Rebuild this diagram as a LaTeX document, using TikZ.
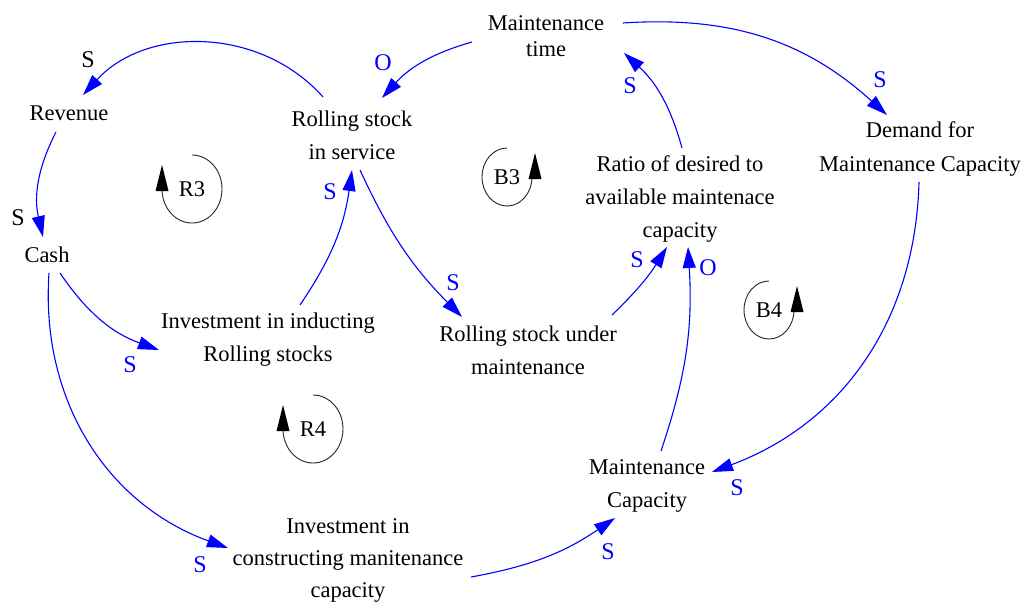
\documentclass[tikz,border=0pt]{standalone}
\usepackage{fontspec}
\setmainfont{Liberation Serif}
\newfontfamily\diagfont{Liberation Serif}
\usetikzlibrary{arrows.meta}
\definecolor{linkblue}{RGB}{0,0,255}
\begin{document}
\begin{tikzpicture}[x=1pt,y=-1pt,
  var/.style={align=center, inner sep=0pt, font=\diagfont\fontsize{22.5}{33}\selectfont},
  pol/.style={inner sep=0pt, font=\diagfont\fontsize{24}{24}\selectfont, text=linkblue},
  polk/.style={pol, text=black},
  link/.style={draw=linkblue, line width=1.1pt, -{Triangle[length=21pt,width=13pt]}},
  looptag/.style={inner sep=0pt, font=\diagfont\fontsize{22.5}{26}\selectfont},
  loopline/.style={draw=black!85, line width=0.9pt},
  loophead/.style={fill=black},
]
\fill[white] (0,0) rectangle (1028,605);
\useasboundingbox (0,0) rectangle (1028,605);

% variables
\node[var] (rev)    at (69,113)  {Revenue};
\node[var] (cash)   at (47,255)  {Cash};
\node[var] (rsis)   at (352,135) {Rolling stock\\in service};
\node[var, font=\diagfont\fontsize{22.5}{26}\selectfont] (mtime) at (546,36) {Maintenance\\time};
\node[var, font=\diagfont\fontsize{22.5}{34}\selectfont] (demand) at (920,149) {Demand for\\Maintenance Capacity};
\node[var] (ratio)  at (680,199) {Ratio of desired to\\available maintenace\\capacity};
\node[var] (invrs)  at (268,340) {Investment in inducting\\Rolling stocks};
\node[var] (rsum)   at (528,350) {Rolling stock under\\maintenance};
\node[var] (mcap)   at (647,486) {Maintenance\\Capacity};
\node[var, font=\diagfont\fontsize{22.5}{32}\selectfont] (invmc) at (348,560) {Investment in\\constructing manitenance\\capacity};

% causal links
\draw[link] ([shift={(-29,-38)}]rsis.center) to[bend right=48] ([shift={(14,-18)}]rev.center);
\draw[link] ([shift={(-74,6)}]mtime.center) to[bend right=16] ([shift={(30,-37)}]rsis.center);
\draw[link] ([shift={(-13,19)}]rev.center) to[bend right=20] ([shift={(-4,-18)}]cash.center);
\draw[link] ([shift={(13,18)}]cash.center) to[bend right=18] ([shift={(-109,10)}]invrs.center);
\draw[link] ([shift={(2,18)}]cash.center) to[bend right=37] ([shift={(-120,-12)}]invmc.center);
\draw[link] ([shift={(32,-35)}]invrs.center) to[bend right=13] ([shift={(0,35)}]rsis.center);
\draw[link] ([shift={(8,35)}]rsis.center) to[bend right=10] ([shift={(-66,-33)}]rsum.center);
\draw[link] ([shift={(84,-35)}]rsum.center) to[bend right=7] ([shift={(-13,48)}]ratio.center);
\draw[link] ([shift={(14,-35)}]mcap.center) to[bend right=11] ([shift={(8,48)}]ratio.center);
\draw[link] ([shift={(2,-51)}]ratio.center) to[bend right=16] ([shift={(78,17)}]mtime.center);
\draw[link] ([shift={(77,-13)}]mtime.center) to[bend left=23] ([shift={(-33,-34)}]demand.center);
\draw[link] ([shift={(-1,33)}]demand.center) to[bend left=34] ([shift={(65,-14)}]mcap.center);
\draw[link] ([shift={(123,17)}]invmc.center) to[bend right=12] ([shift={(-32,32)}]mcap.center);

% link polarities
\node[polk] (p1)  at (88,60)   {S};
\node[pol]  (p2)  at (383,63)  {O};
\node[polk] (p3)  at (18,218)  {S};
\node[pol]  (p4)  at (130,365) {S};
\node[pol]  (p5)  at (200,565) {S};
\node[pol]  (p6)  at (330,192) {S};
\node[pol]  (p7)  at (453,283) {S};
\node[pol]  (p8)  at (637,260) {S};
\node[pol]  (p9)  at (708,268) {O};
\node[pol]  (p10) at (630,86)  {S};
\node[pol]  (p11) at (880,80)  {S};
\node[pol]  (p12) at (737,488) {S};
\node[pol]  (p13) at (608,552) {S};

% loop markers: reinforcing loops turn clockwise
\node[looptag] (r3) at (192,189) {R3};
\draw[loopline] ([shift={(0,-34)}]r3.center) arc[start angle=-90, end angle=180, x radius=30, y radius=34];
\fill[loophead] ([shift={(-30,-24)}]r3.center) -- ([shift={(-23.5,2)}]r3.center) -- ([shift={(-36.5,2)}]r3.center) -- cycle;

\node[looptag] (r4) at (313,429) {R4};
\draw[loopline] ([shift={(0,-34)}]r4.center) arc[start angle=-90, end angle=180, x radius=30, y radius=34];
\fill[loophead] ([shift={(-30,-24)}]r4.center) -- ([shift={(-23.5,2)}]r4.center) -- ([shift={(-36.5,2)}]r4.center) -- cycle;

% balancing loops turn counter-clockwise
\node[looptag] (b3) at (507,177) {B3};
\draw[loopline] ([shift={(0,-29)}]b3.center) arc[start angle=-90, end angle=-360, x radius=25, y radius=29];
\fill[loophead] ([shift={(28,-24)}]b3.center) -- ([shift={(34.5,2)}]b3.center) -- ([shift={(21.5,2)}]b3.center) -- cycle;

\node[looptag] (b4) at (769,310) {B4};
\draw[loopline] ([shift={(0,-29)}]b4.center) arc[start angle=-90, end angle=-360, x radius=25, y radius=29];
\fill[loophead] ([shift={(28,-24)}]b4.center) -- ([shift={(34.5,2)}]b4.center) -- ([shift={(21.5,2)}]b4.center) -- cycle;
\end{tikzpicture}
\end{document}
